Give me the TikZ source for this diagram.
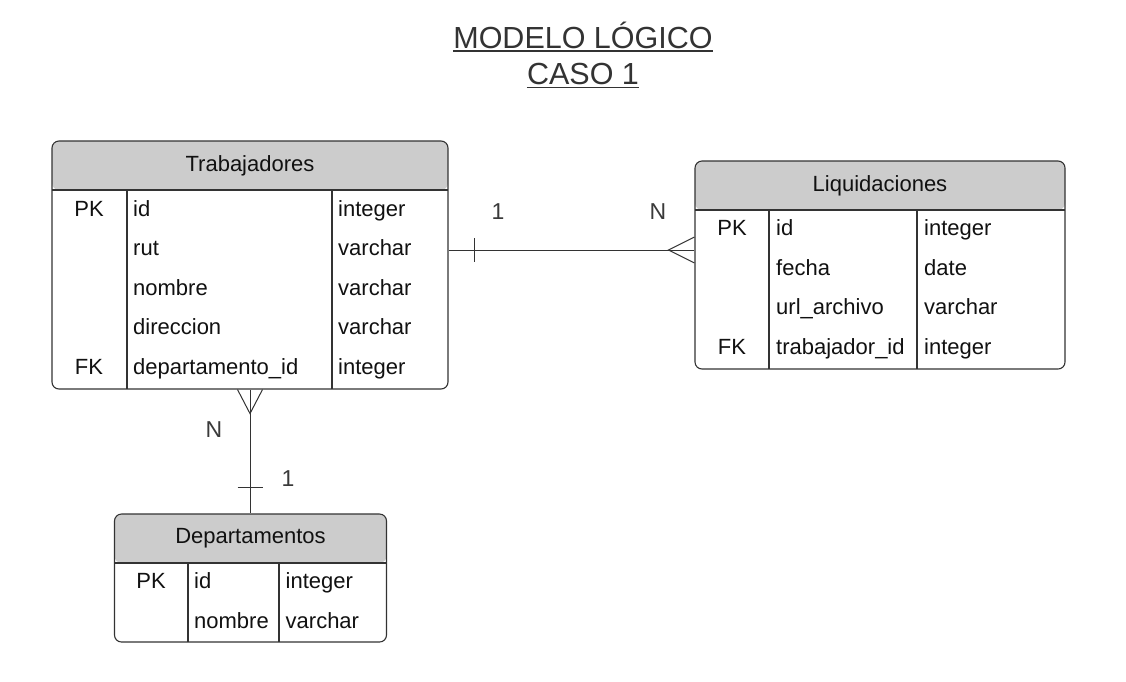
\documentclass[tikz,border=0pt]{standalone}
\usepackage{fontspec}
\setmainfont{Liberation Sans}
\usetikzlibrary{calc}
\definecolor{hdrgray}{HTML}{CCCCCC}
\definecolor{linec}{HTML}{333333}
\definecolor{txtc}{HTML}{111111}
\definecolor{lblc}{HTML}{3A3A3A}
\begin{document}
\begin{tikzpicture}[x=1pt,y=-1pt,
  tbl/.style={draw=linec, line width=1.1pt, rounded corners=7pt, inner sep=0pt, fill=white,
    path picture={\fill[hdrgray] (path picture bounding box.north west) rectangle ([yshift=-49pt]path picture bounding box.north east);}},
  divl/.style={draw=linec, line width=1.4pt},
  cell/.style={font=\fontsize{22}{26}\selectfont, text=txtc, inner sep=0pt, anchor=base west},
  keyc/.style={cell, anchor=base},
  hdr/.style={cell, anchor=base},
  conn/.style={draw=linec, line width=1pt},
  lbl/.style={font=\fontsize{23}{27}\selectfont, text=lblc, inner sep=0pt, anchor=base},
  ttl/.style={font=\fontsize{30.5}{36}\selectfont, text=linec, inner sep=0pt, anchor=base},
  ul/.style={draw=linec, line width=1.8pt}]

\useasboundingbox[fill=white] (0,0) rectangle (1126,681);

% Title
\node[ttl] (t1) at (583,48) {MODELO LÓGICO};
\node[ttl] (t2) at (583,84.5) {CASO 1};
\draw[ul] ([yshift=-3pt]t1.base west) -- ([yshift=-3pt]t1.base east);
\draw[ul] ([yshift=-3pt]t2.base west) -- ([yshift=-3pt]t2.base east);

% ---------------- Trabajadores
\node[tbl, minimum width=396pt, minimum height=248pt] (trab) at (250,265) {};
\draw[divl] (52,190) -- (448,190);
\draw[divl] (127,190) -- (127,389);
\draw[divl] (332,190) -- (332,389);
\node[hdr] (trabh) at (250,171) {Trabajadores};
\node[keyc] (trk1) at (89,216) {PK};
\node[cell] (trn1) at (133,216) {id};
\node[cell] (trt1) at (338,216) {integer};
\node[cell] (trn2) at (133,255) {rut};
\node[cell] (trt2) at (338,255) {varchar};
\node[cell] (trn3) at (133,295) {nombre};
\node[cell] (trt3) at (338,295) {varchar};
\node[cell] (trn4) at (133,334) {direccion};
\node[cell] (trt4) at (338,334) {varchar};
\node[keyc] (trk5) at (89,374) {FK};
\node[cell] (trn5) at (133,374) {departamento\_id};
\node[cell] (trt5) at (338,374) {integer};

% ---------------- Liquidaciones
\node[tbl, minimum width=370pt, minimum height=208pt] (liq) at (880,265) {};
\draw[divl] (695,210) -- (1065,210);
\draw[divl] (769,210) -- (769,369);
\draw[divl] (917,210) -- (917,369);
\node[hdr] (liqh) at (880,191) {Liquidaciones};
\node[keyc] (lqk1) at (732,235) {PK};
\node[cell] (lqn1) at (776,235) {id};
\node[cell] (lqt1) at (924,235) {integer};
\node[cell] (lqn2) at (776,275) {fecha};
\node[cell] (lqt2) at (924,275) {date};
\node[cell] (lqn3) at (776,314) {url\_archivo};
\node[cell] (lqt3) at (924,314) {varchar};
\node[keyc] (lqk4) at (732,354) {FK};
\node[cell] (lqn4) at (776,354) {trabajador\_id};
\node[cell] (lqt4) at (924,354) {integer};

% ---------------- Departamentos
\node[tbl, minimum width=272pt, minimum height=128pt] (dep) at (250.5,578) {};
\draw[divl] (114.5,563) -- (386.5,563);
\draw[divl] (188,563) -- (188,642);
\draw[divl] (279,563) -- (279,642);
\node[hdr] (deph) at (250.5,543) {Departamentos};
\node[keyc] (dpk1) at (151,588) {PK};
\node[cell] (dpn1) at (194,588) {id};
\node[cell] (dpt1) at (285.5,588) {integer};
\node[cell] (dpn2) at (194,628) {nombre};
\node[cell] (dpt2) at (285.5,628) {varchar};

% ---------------- Connector Trabajadores -- Liquidaciones
\coordinate (ylev) at (0,250);
\coordinate (a1) at (trab.east |- ylev);
\coordinate (a2) at (liq.west |- ylev);
\draw[conn] (a1) -- (a2);
\draw[conn] ([xshift=26pt,yshift=12pt]a1) -- ([xshift=26pt,yshift=-12pt]a1);
\draw[conn] ([yshift=13pt]a2) -- ([xshift=-26pt]a2) -- ([yshift=-13pt]a2);
\node[lbl] (l1) at (498,219) {1};
\node[lbl] (lN) at (658,219) {N};

% ---------------- Connector Trabajadores -- Departamentos
\coordinate (b1) at (trab.south);
\coordinate (b2) at (trab.south |- dep.north);
\draw[conn] (b1) -- (b2);
\draw[conn] ([xshift=-12.5pt]b1) -- ([yshift=-24pt]b1) -- ([xshift=12.5pt]b1);
\draw[conn] ([xshift=-12.5pt,yshift=26pt]b2) -- ([xshift=12.5pt,yshift=26pt]b2);
\node[lbl] (d1) at (288,486) {1};
\node[lbl] (dN) at (214,437) {N};

\end{tikzpicture}
\end{document}
